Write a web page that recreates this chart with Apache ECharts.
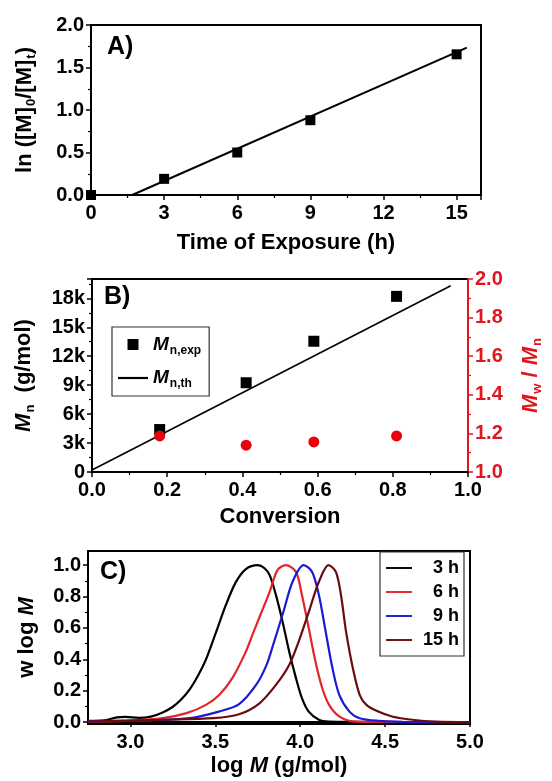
<!DOCTYPE html>
<html>
<head>
<meta charset="utf-8">
<script src="https://cdn.jsdelivr.net/npm/echarts@6/dist/echarts.min.js"></script>
<style>
  html, body { margin: 0; padding: 0; background: #fff; }
  #chart { width: 552px; height: 781px; }
</style>
</head>
<body>
<div id="chart"></div>
<script>
// Three stacked panels: A) kinetics, B) Mn / dispersity vs conversion,
// C) GPC traces (w log M) for the four exposure times.

const FONT = '"Liberation Sans", Arial, sans-serif';

// --- A) ln([M]0/[M]t) vs time ---
const timeH = [0, 3, 6, 9, 15];
const lnRatio = [0, 0.19, 0.5, 0.88, 1.655];
const fitTime = [1.69, 15.42];
const fitLn = [0, 1.733];

// --- B) Mn and Mw/Mn vs conversion ---
const conversion = [0.18, 0.41, 0.59, 0.81];
const mnExp = [4400, 9250, 13550, 18200];
const dispersity = [1.187, 1.139, 1.156, 1.187];
const thConversion = [0, 0.954];
const mnTh = [200, 19300];

// --- C) GPC traces ---
const logM3h = [2.75, 2.85, 2.92, 2.97, 3.05, 3.12, 3.19, 3.25, 3.3, 3.35, 3.4, 3.445, 3.5, 3.56, 3.62, 3.68, 3.75, 3.79, 3.82, 3.857, 3.896, 3.935, 3.975, 4.01, 4.05, 4.11, 4.17, 4.3, 5.0];
const w3h = [0.005, 0.012, 0.03, 0.033, 0.027, 0.035, 0.062, 0.098, 0.145, 0.21, 0.3, 0.4, 0.56, 0.74, 0.89, 0.975, 1.0, 0.98, 0.936, 0.809, 0.64, 0.449, 0.28, 0.153, 0.067, 0.015, 0.003, 0.001, 0];

const logM6h = [2.75, 3.0, 3.19, 3.33, 3.445, 3.524, 3.6, 3.68, 3.72, 3.77, 3.82, 3.866, 3.915, 3.975, 4.01, 4.05, 4.09, 4.13, 4.17, 4.23, 4.31, 4.45, 5.0];
const w6h = [0.003, 0.01, 0.025, 0.057, 0.11, 0.174, 0.28, 0.449, 0.56, 0.695, 0.83, 0.968, 1.0, 0.957, 0.81, 0.6, 0.385, 0.216, 0.11, 0.036, 0.005, 0.001, 0];

const logM9h = [2.75, 3.09, 3.35, 3.52, 3.64, 3.74, 3.8, 3.84, 3.9, 3.955, 4.02, 4.07, 4.11, 4.15, 4.19, 4.23, 4.29, 4.35, 4.46, 4.6, 5.0];
const w9h = [0.008, 0.01, 0.025, 0.067, 0.115, 0.237, 0.36, 0.49, 0.7, 0.894, 1.0, 0.957, 0.81, 0.576, 0.343, 0.174, 0.067, 0.025, 0.008, 0.002, 0];

const logM15h = [2.75, 3.19, 3.49, 3.64, 3.76, 3.857, 3.935, 3.99, 4.05, 4.11, 4.167, 4.21, 4.24, 4.27, 4.31, 4.35, 4.39, 4.46, 4.54, 4.66, 4.8, 5.0];
const w15h = [0.003, 0.015, 0.025, 0.05, 0.12, 0.237, 0.364, 0.51, 0.7, 0.894, 1.0, 0.957, 0.81, 0.576, 0.343, 0.174, 0.11, 0.067, 0.036, 0.015, 0.003, 0];

const gpcLabels = ["3 h", "6 h", "9 h", "15 h"];
const gpcColors = ["#000000", "#e3242b", "#1a1ad6", "#6b0c0c"];

const pairs = (xs, ys) => xs.map((x, i) => [x, ys[i]]);

const TICK = { show: true, inside: false, length: 5, lineStyle: { color: "#000", width: 1.5 } };
const MINOR = { show: true, splitNumber: 2, length: 3, lineStyle: { color: "#000", width: 1.2 } };
const LINE = { show: true, lineStyle: { color: "#000", width: 2 } };
const LABEL = { fontFamily: FONT, fontWeight: "bold", fontSize: 20, color: "#000" };

// legend icons: a filled square, and a thin bar standing in for a line
const ICON_SQUARE = "path://M0 0H10V10H0Z";
const ICON_LINE = "path://M0 0H30V2.2H0Z";

const nameRich = (color) => ({
  t: { fontFamily: FONT, fontWeight: "bold", fontSize: 22, color },
  i: { fontFamily: FONT, fontWeight: "bold", fontStyle: "italic", fontSize: 22, color },
  s: { fontFamily: FONT, fontWeight: "bold", fontSize: 13, color, padding: [13, 0, 0, 1] },
});

const chart = echarts.init(document.getElementById("chart"), null, { renderer: "canvas" });

const gpcSeries = [
  [logM3h, w3h],
  [logM6h, w6h],
  [logM9h, w9h],
  [logM15h, w15h],
].map(([xs, ys], i) => ({
  name: gpcLabels[i],
  type: "line",
  xAxisIndex: 2,
  yAxisIndex: 3,
  data: pairs(xs, ys),
  smooth: 0.3,
  symbol: "none",
  color: gpcColors[i],
  lineStyle: { width: 2.2, color: gpcColors[i] },
}));

chart.setOption({
  animation: false,
  backgroundColor: "#fff",
  textStyle: { fontFamily: FONT, fontWeight: "bold", color: "#000" },
  grid: [
    { left: 91, top: 25, width: 390, height: 170, show: true, borderColor: "#000", borderWidth: 2, backgroundColor: "transparent" },
    { left: 92, top: 279, width: 380, height: 193, show: true, borderColor: "#000", borderWidth: 2, backgroundColor: "transparent" },
    { left: 88, top: 551, width: 382, height: 173, show: true, borderColor: "#000", borderWidth: 2, backgroundColor: "transparent" },
  ],
  xAxis: [
    {
      gridIndex: 0, type: "value", min: 0, max: 16, interval: 3, position: "bottom",
      axisLine: LINE, axisTick: TICK, minorTick: MINOR, splitLine: { show: false },
      axisLabel: { ...LABEL, margin: 8, formatter: (v) => (v % 3 === 0 ? String(v) : "") },
      name: "Time of Exposure (h)", nameLocation: "middle", nameGap: 37,
      nameTextStyle: { fontFamily: FONT, fontWeight: "bold", fontSize: 22, color: "#000" },
    },
    {
      gridIndex: 1, type: "value", min: 0, max: 1, interval: 0.2, position: "bottom",
      axisLine: LINE, axisTick: TICK, minorTick: MINOR, splitLine: { show: false },
      axisLabel: { ...LABEL, margin: 8, formatter: (v) => v.toFixed(1) },
      name: "Conversion", nameLocation: "middle", nameGap: 34,
      nameTextStyle: { fontFamily: FONT, fontWeight: "bold", fontSize: 22, color: "#000" },
    },
    {
      gridIndex: 2, type: "value", min: 2.75, max: 5.0, position: "bottom",
      axisLine: LINE, splitLine: { show: false },
      axisTick: { ...TICK, customValues: [3, 3.5, 4, 4.5, 5] },
      axisLabel: { ...LABEL, margin: 8, customValues: [3, 3.5, 4, 4.5, 5], formatter: (v) => v.toFixed(1) },
      name: "{t|log }{i|M}{t| (g/mol)}", nameLocation: "middle", nameGap: 31,
      nameTextStyle: { rich: nameRich("#000") },
    },
    {
      // minor ticks for panel C
      gridIndex: 2, type: "value", min: 2.75, max: 5.0, position: "bottom",
      axisLine: { show: false }, splitLine: { show: false }, axisLabel: { show: false },
      axisTick: { show: true, length: 3, lineStyle: { color: "#000", width: 1.2 }, customValues: [3.25, 3.75, 4.25, 4.75] },
    },
  ],
  yAxis: [
    {
      gridIndex: 0, type: "value", min: 0, max: 2, interval: 0.5, position: "left",
      axisLine: LINE, axisTick: TICK, minorTick: MINOR, splitLine: { show: false },
      axisLabel: { ...LABEL, margin: 7, formatter: (v) => v.toFixed(1) },
      name: "{t|ln ([M]}{s|0}{t|/[M]}{s|t}{t|)}", nameLocation: "middle", nameGap: 53, nameRotate: 90,
      nameTextStyle: { rich: nameRich("#000") },
    },
    {
      gridIndex: 1, type: "value", min: 0, max: 20000, interval: 3000, position: "left",
      axisLine: LINE, axisTick: TICK, minorTick: MINOR, splitLine: { show: false },
      axisLabel: { ...LABEL, margin: 7, formatter: (v) => (v === 0 ? "0" : v > 18000 ? "" : v / 1000 + "k") },
      name: "{i|M}{s|n}{t|  (g/mol)}", nameLocation: "middle", nameGap: 55, nameRotate: 90,
      nameTextStyle: { rich: nameRich("#000") },
    },
    {
      gridIndex: 1, type: "value", min: 1, max: 2, interval: 0.2, position: "right",
      axisLine: { show: true, lineStyle: { color: "#e0161e", width: 2 } },
      axisTick: { ...TICK, lineStyle: { color: "#e0161e", width: 1.5 } },
      minorTick: { ...MINOR, lineStyle: { color: "#e0161e", width: 1.2 } },
      splitLine: { show: false },
      axisLabel: { ...LABEL, color: "#e0161e", margin: 7, formatter: (v) => v.toFixed(1) },
      name: "{i|M}{s|w}{t| / }{i|M}{s|n}", nameLocation: "middle", nameGap: 50, nameRotate: 90,
      nameTextStyle: { rich: nameRich("#e0161e") },
    },
    {
      gridIndex: 2, type: "value", min: -0.012, max: 1.09, position: "left",
      axisLine: LINE, splitLine: { show: false },
      axisTick: { ...TICK, customValues: [0, 0.2, 0.4, 0.6, 0.8, 1.0] },
      axisLabel: { ...LABEL, margin: 7, customValues: [0, 0.2, 0.4, 0.6, 0.8, 1.0], formatter: (v) => v.toFixed(1) },
      name: "{t|w log }{i|M}", nameLocation: "middle", nameGap: 50, nameRotate: 90,
      nameTextStyle: { rich: nameRich("#000") },
    },
    {
      // minor ticks for panel C
      gridIndex: 2, type: "value", min: -0.012, max: 1.09, position: "left",
      axisLine: { show: false }, splitLine: { show: false }, axisLabel: { show: false },
      axisTick: { show: true, length: 3, lineStyle: { color: "#000", width: 1.2 }, customValues: [0.1, 0.3, 0.5, 0.7, 0.9] },
    },
  ],
  legend: [
    {
      data: [
        { name: "Mn,exp", icon: ICON_SQUARE },
        { name: "Mn,th", icon: ICON_LINE },
      ],
      orient: "vertical",
      left: 112, top: 327,
      itemWidth: 30, itemHeight: 11, itemGap: 12,
      padding: [8, 8, 6, 6],
      borderColor: "#333", borderWidth: 1.2,
      formatter: (name) => (name === "Mn,exp" ? "{i|M}{s|n,exp}" : "{i|M}{s|n,th}"),
      textStyle: {
        rich: {
          i: { fontFamily: FONT, fontWeight: "bold", fontStyle: "italic", fontSize: 19, color: "#000" },
          s: { fontFamily: FONT, fontWeight: "bold", fontSize: 12, color: "#000", padding: [12, 0, 0, 1] },
        },
      },
    },
    {
      data: gpcLabels.map((name) => ({ name, icon: ICON_LINE })),
      orient: "vertical",
      left: 380, top: 552,
      itemWidth: 26, itemHeight: 12, itemGap: 6,
      padding: [7, 5, 7, 6],
      borderColor: "#333", borderWidth: 1.2,
      formatter: (name) => "{r|" + name + "}",
      textStyle: {
        rich: { r: { fontFamily: FONT, fontWeight: "bold", fontSize: 18, color: "#000", width: 42, align: "right" } },
      },
    },
  ],
  graphic: [
    { type: "text", left: 107, top: 35, style: { text: "A)", font: "bold 25px " + FONT, fill: "#000" } },
    { type: "text", left: 104, top: 285, style: { text: "B)", font: "bold 25px " + FONT, fill: "#000" } },
    { type: "text", left: 100, top: 560, style: { text: "C)", font: "bold 25px " + FONT, fill: "#000" } },
  ],
  series: [
    {
      type: "scatter", xAxisIndex: 0, yAxisIndex: 0,
      data: pairs(timeH, lnRatio),
      symbol: "rect", symbolSize: 10, itemStyle: { color: "#000", opacity: 1 }, z: 3,
    },
    {
      type: "line", xAxisIndex: 0, yAxisIndex: 0,
      data: pairs(fitTime, fitLn),
      symbol: "none", lineStyle: { color: "#000", width: 2 },
    },
    {
      name: "Mn,exp", type: "scatter", xAxisIndex: 1, yAxisIndex: 1,
      data: pairs(conversion, mnExp),
      symbol: "rect", symbolSize: 11, itemStyle: { color: "#000", opacity: 1 }, z: 3,
    },
    {
      name: "Mn,th", type: "line", xAxisIndex: 1, yAxisIndex: 1,
      data: pairs(thConversion, mnTh),
      symbol: "none", color: "#000", lineStyle: { color: "#000", width: 1.6 },
    },
    {
      name: "Mw/Mn", type: "scatter", xAxisIndex: 1, yAxisIndex: 2,
      data: pairs(conversion, dispersity),
      symbol: "circle", symbolSize: 11, itemStyle: { color: "#e8000b", opacity: 1 }, z: 4,
    },
    ...gpcSeries,
  ],
});
</script>
</body>
</html>
